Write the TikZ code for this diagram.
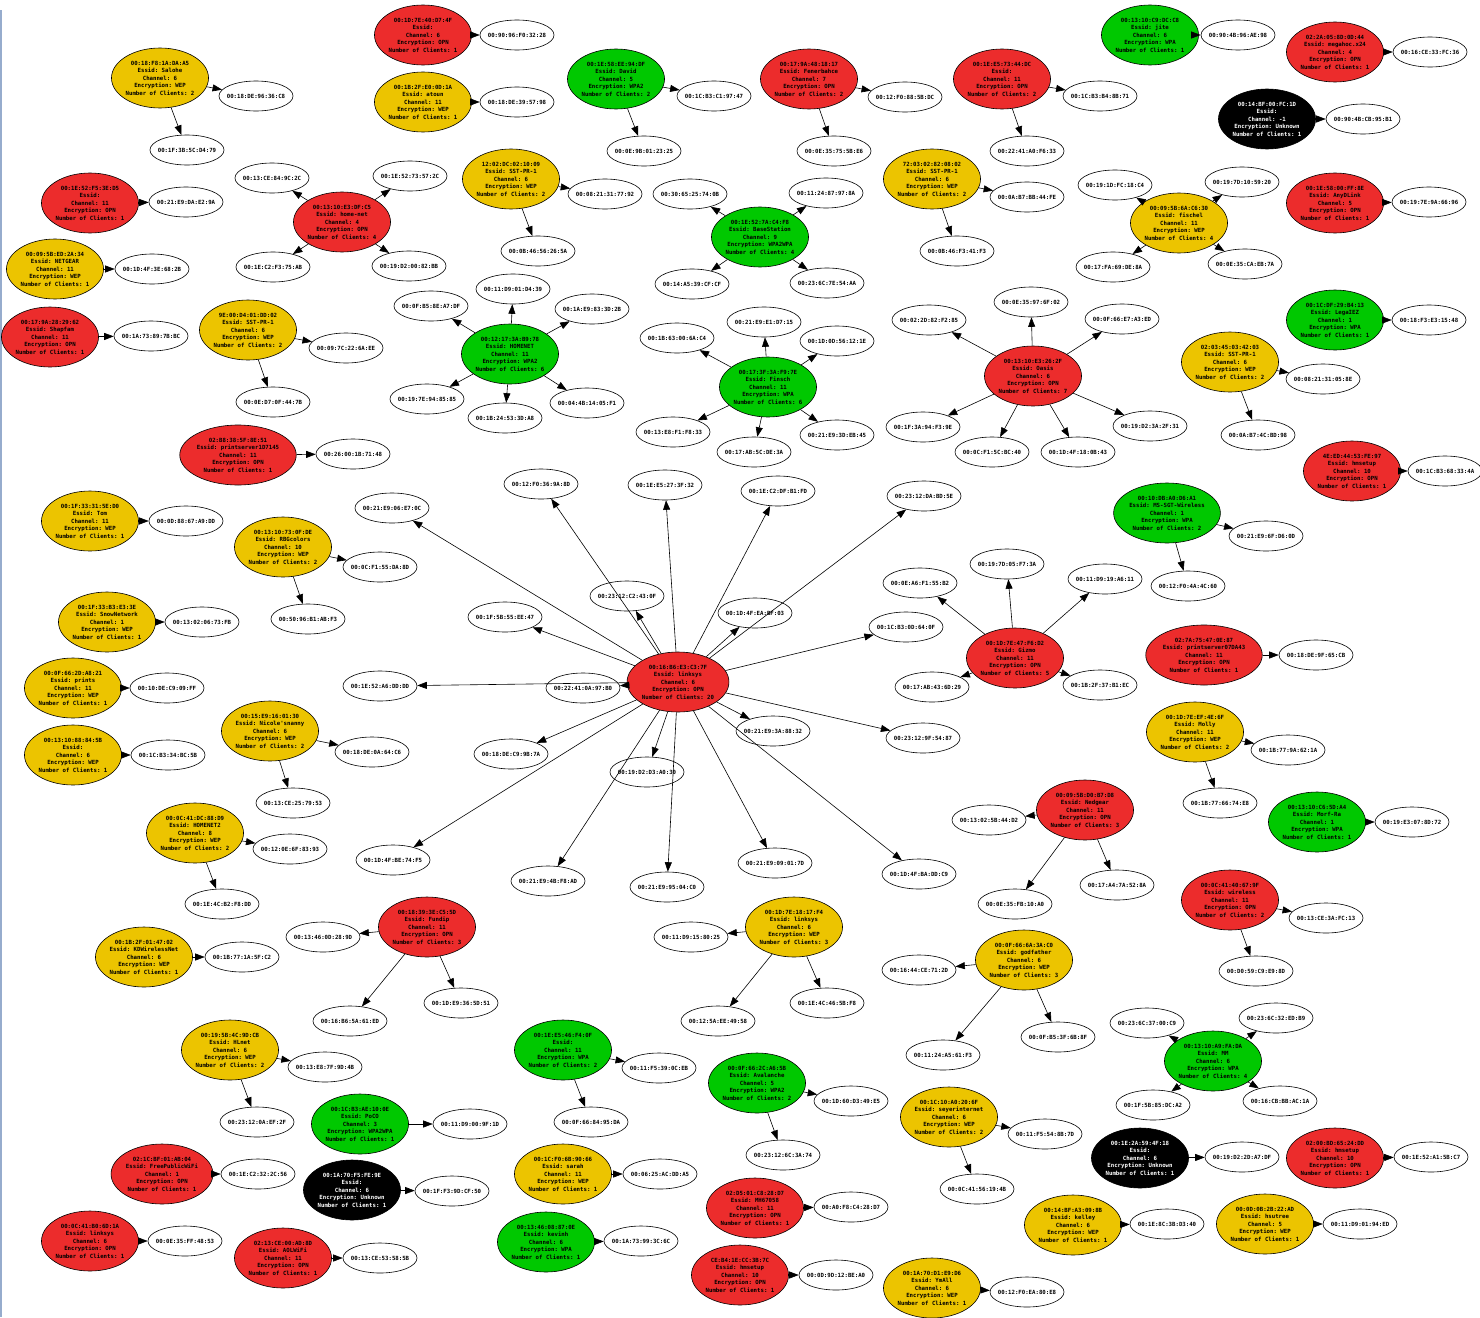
\documentclass[tikz,border=0pt]{standalone}
\usepackage{fontspec}
\setmonofont{DejaVu Sans Mono}
\usetikzlibrary{arrows.meta,shapes.geometric}
\definecolor{apred}{RGB}{236,44,44}
\definecolor{apyellow}{RGB}{236,196,0}
\definecolor{apgreen}{RGB}{0,200,0}
\definecolor{frameblue}{RGB}{150,172,205}

\begin{document}
\begin{tikzpicture}[x=1pt, y=-1pt, >={Triangle[length=9.5pt,width=7pt]},
  every node/.style={font=\fontsize{5.7}{7.5}\selectfont\ttfamily\bfseries},
  ap/.style={ellipse, draw, line width=0.6pt, align=center, inner xsep=0pt, inner ysep=3pt, minimum height=60pt},
  opn/.style={ap, fill=apred},
  wep/.style={ap, fill=apyellow},
  wpa/.style={ap, fill=apgreen},
  unk/.style={ap, fill=black, text=white},
  cl/.style={ellipse, draw, line width=0.6pt, inner xsep=-3pt, inner ysep=0pt, minimum width=74pt, minimum height=30pt},
  link/.style={->, line width=0.6pt}]
\useasboundingbox (0,0) rectangle (1480,1317);
\draw[frameblue, line width=1.5pt] (0.75,10) -- (0.75,1317);

\node[wep] (salohe) at (160,78) {00:18:F8:1A:DA:A5\\Essid: Salohe\\Channel: 6\\Encryption: WEP\\Number of Clients: 2};
\node[cl] (salohe1) at (256,96) {00:18:DE:96:36:C8};
\node[cl] (salohe2) at (187,150) {00:1F:3B:5C:D4:79};
\draw[link] (salohe) -- (salohe1);
\draw[link] (salohe) -- (salohe2);

\node[opn] (f5) at (90,203) {00:1E:52:F5:3E:D5\\Essid:\\Channel: 11\\Encryption: OPN\\Number of Clients: 1};
\node[cl] (f51) at (186,202) {00:21:E9:DA:E2:9A};
\draw[link] (f5) -- (f51);

\node[wep] (netgear) at (55,269) {00:09:5B:ED:2A:34\\Essid: NETGEAR\\Channel: 11\\Encryption: WEP\\Number of Clients: 1};
\node[cl] (netgear1) at (152,269) {00:1D:4F:3E:68:2B};
\draw[link] (netgear) -- (netgear1);

\node[opn] (shapfam) at (50,337) {00:17:9A:28:29:62\\Essid: Shapfam\\Channel: 11\\Encryption: OPN\\Number of Clients: 1};
\node[cl] (shapfam1) at (151,336) {00:1A:73:89:7B:BC};
\draw[link] (shapfam) -- (shapfam1);

\node[opn] (home) at (342,222) {00:13:10:E3:DF:C5\\Essid: home-net\\Channel: 4\\Encryption: OPN\\Number of Clients: 4};
\node[cl] (home1) at (272,178) {00:13:CE:84:9C:2C};
\node[cl] (home2) at (273,267) {00:1E:C2:F3:75:AB};
\node[cl] (home3) at (410,176) {00:1E:52:73:57:2C};
\node[cl] (home4) at (409,266) {00:19:D2:00:82:BB};
\draw[link] (home) -- (home1);
\draw[link] (home) -- (home2);
\draw[link] (home) -- (home3);
\draw[link] (home) -- (home4);

\node[wep] (sstA) at (248,330) {9E:00:D4:01:DD:02\\Essid: SST-PR-1\\Channel: 6\\Encryption: WEP\\Number of Clients: 2};
\node[cl] (sstA1) at (346,348) {00:09:7C:22:6A:EE};
\node[cl] (sstA2) at (273,402) {00:0E:D7:0F:44:7B};
\draw[link] (sstA) -- (sstA1);
\draw[link] (sstA) -- (sstA2);

\node[opn] (psA) at (238,455) {02:B8:38:5F:8E:51\\Essid: printserver1D7145\\Channel: 11\\Encryption: OPN\\Number of Clients: 1};
\node[cl] (psA1) at (353,454) {00:26:00:1B:71:48};
\draw[link] (psA) -- (psA1);

\node[wep] (tom) at (90,521) {00:1F:33:31:5E:D0\\Essid: Tom\\Channel: 11\\Encryption: WEP\\Number of Clients: 1};
\node[cl] (tom1) at (186,521) {00:0D:88:67:A9:DD};
\draw[link] (tom) -- (tom1);

\node[wep] (rbg) at (283,547) {00:13:10:73:0F:DE\\Essid: RBGcolors\\Channel: 10\\Encryption: WEP\\Number of Clients: 2};
\node[cl] (rbg1) at (380,567) {00:0C:F1:55:DA:8D};
\node[cl] (rbg2) at (308,619) {00:50:96:B1:AB:F3};
\draw[link] (rbg) -- (rbg1);
\draw[link] (rbg) -- (rbg2);

\node[wep] (snow) at (107,622) {00:1F:33:B3:E3:3E\\Essid: SnowNetwork\\Channel: 1\\Encryption: WEP\\Number of Clients: 1};
\node[cl] (snow1) at (202,622) {00:13:02:06:73:FB};
\draw[link] (snow) -- (snow1);

\node[wep] (prints) at (73,688) {00:0F:66:2D:A8:21\\Essid: prints\\Channel: 11\\Encryption: WEP\\Number of Clients: 1};
\node[cl] (prints1) at (167,688) {00:10:DE:C9:09:FF};
\draw[link] (prints) -- (prints1);

\node[wep] (b5b) at (73,755) {00:13:10:88:84:5B\\Essid:\\Channel: 6\\Encryption: WEP\\Number of Clients: 1};
\node[cl] (b5b1) at (168,755) {00:1C:B3:34:BC:5B};
\draw[link] (b5b) -- (b5b1);

\node[wep] (nicole) at (270,731) {00:15:E9:16:01:30\\Essid: Nicole'snanny\\Channel: 6\\Encryption: WEP\\Number of Clients: 2};
\node[cl] (nicole1) at (372,752) {00:18:DE:0A:64:C6};
\node[cl] (nicole2) at (293,803) {00:13:CE:25:79:53};
\draw[link] (nicole) -- (nicole1);
\draw[link] (nicole) -- (nicole2);

\node[wep] (homenetB) at (195,833) {00:0C:41:DC:88:D9\\Essid: HOMENET2\\Channel: 8\\Encryption: WEP\\Number of Clients: 2};
\node[cl] (homenetB1) at (290,849) {00:12:0E:6F:83:93};
\node[cl] (homenetB2) at (222,904) {00:1E:4C:B2:F8:DD};
\draw[link] (homenetB) -- (homenetB1);
\draw[link] (homenetB) -- (homenetB2);

\node[wep] (kdw) at (144,957) {00:1B:2F:01:47:02\\Essid: KDWirelessNet\\Channel: 6\\Encryption: WEP\\Number of Clients: 1};
\node[cl] (kdw1) at (242,957) {00:1B:77:1A:5F:C2};
\draw[link] (kdw) -- (kdw1);

\node[opn] (fundip) at (427,927) {00:18:39:3E:C5:5D\\Essid: Fundip\\Channel: 11\\Encryption: OPN\\Number of Clients: 3};
\node[cl] (fundip1) at (323,937) {00:13:46:0D:28:9D};
\node[cl] (fundip2) at (350,1021) {00:16:B6:5A:61:ED};
\node[cl] (fundip3) at (461,1003) {00:1D:E9:36:5D:51};
\draw[link] (fundip) -- (fundip1);
\draw[link] (fundip) -- (fundip2);
\draw[link] (fundip) -- (fundip3);

\node[wep] (hlnet) at (230,1050) {00:19:5B:4C:9D:CB\\Essid: HLnet\\Channel: 6\\Encryption: WEP\\Number of Clients: 2};
\node[cl] (hlnet1) at (325,1067) {00:13:E8:7F:9D:4B};
\node[cl] (hlnet2) at (257,1122) {00:23:12:0A:EF:2F};
\draw[link] (hlnet) -- (hlnet1);
\draw[link] (hlnet) -- (hlnet2);

\node[wpa] (poco) at (360,1124) {00:1C:B3:AE:10:0E\\Essid: PoCO\\Channel: 3\\Encryption: WPA2WPA\\Number of Clients: 1};
\node[cl] (poco1) at (470,1124) {00:11:D9:00:9F:1D};
\draw[link] (poco) -- (poco1);

\node[unk] (unkA) at (352,1190) {00:1A:70:F5:FE:9E\\Essid:\\Channel: 6\\Encryption: Unknown\\Number of Clients: 1};
\node[cl] (unkA1) at (452,1191) {00:1F:F3:9D:CF:50};
\draw[link] (unkA) -- (unkA1);

\node[opn] (fpw) at (162,1174) {02:1C:BF:01:AB:04\\Essid: FreePublicWiFi\\Channel: 1\\Encryption: OPN\\Number of Clients: 1};
\node[cl] (fpw1) at (258,1174) {00:1E:C2:32:2C:56};
\draw[link] (fpw) -- (fpw1);

\node[opn] (lsA) at (90,1241) {00:0C:41:B0:6D:1A\\Essid: linksys\\Channel: 6\\Encryption: OPN\\Number of Clients: 1};
\node[cl] (lsA1) at (185,1241) {00:0E:35:FF:48:53};
\draw[link] (lsA) -- (lsA1);

\node[opn] (aol) at (283,1258) {02:13:CE:00:AD:8D\\Essid: AOLWiFi\\Channel: 11\\Encryption: OPN\\Number of Clients: 1};
\node[cl] (aol1) at (380,1258) {00:13:CE:53:58:5B};
\draw[link] (aol) -- (aol1);

\node[opn] (d74f) at (423,35) {00:1D:7E:40:D7:4F\\Essid:\\Channel: 6\\Encryption: OPN\\Number of Clients: 1};
\node[cl] (d74f1) at (517,35) {00:90:96:F0:32:28};
\draw[link] (d74f) -- (d74f1);

\node[wep] (atoun) at (423,102) {00:1B:2F:E0:0D:1A\\Essid: atoun\\Channel: 11\\Encryption: WEP\\Number of Clients: 1};
\node[cl] (atoun1) at (517,102) {00:18:DE:39:57:98};
\draw[link] (atoun) -- (atoun1);

\node[wpa] (david) at (616,79) {00:1E:58:EE:94:DF\\Essid: David\\Channel: 5\\Encryption: WPA2\\Number of Clients: 2};
\node[cl] (david1) at (714,96) {00:1C:B3:C1:97:47};
\node[cl] (david2) at (644,151) {00:0E:9B:01:23:25};
\draw[link] (david) -- (david1);
\draw[link] (david) -- (david2);

\node[wep] (sstB) at (511,179) {12:02:DC:02:10:09\\Essid: SST-PR-1\\Channel: 6\\Encryption: WEP\\Number of Clients: 2};
\node[cl] (sstB1) at (605,194) {00:08:21:31:77:92};
\node[cl] (sstB2) at (538,251) {00:0B:46:56:26:5A};
\draw[link] (sstB) -- (sstB1);
\draw[link] (sstB) -- (sstB2);

\node[wpa] (base) at (760,237) {00:1E:52:7A:C4:F8\\Essid: BaseStation\\Channel: 9\\Encryption: WPA2WPA\\Number of Clients: 4};
\node[cl] (base1) at (690,194) {00:30:65:25:74:0B};
\node[cl] (base2) at (826,193) {00:11:24:87:97:8A};
\node[cl] (base3) at (692,284) {00:14:A5:39:CF:CF};
\node[cl] (base4) at (827,283) {00:23:6C:7E:54:AA};
\draw[link] (base) -- (base1);
\draw[link] (base) -- (base2);
\draw[link] (base) -- (base3);
\draw[link] (base) -- (base4);

\node[wpa] (homenet) at (510,354) {00:12:17:3A:B9:78\\Essid: HOMENET\\Channel: 11\\Encryption: WPA2\\Number of Clients: 6};
\node[cl] (homenet1) at (513,289) {00:11:D9:01:D4:39};
\node[cl] (homenet2) at (431,306) {00:0F:B5:8E:A7:DF};
\node[cl] (homenet3) at (592,309) {00:1A:E9:83:3D:2B};
\node[cl] (homenet4) at (427,399) {00:19:7E:94:85:85};
\node[cl] (homenet5) at (505,418) {00:1B:24:53:3D:A8};
\node[cl] (homenet6) at (587,403) {00:04:4B:14:05:F1};
\foreach \i in {1,...,6} \draw[link] (homenet) -- (homenet\i);

\node[opn] (fener) at (809,79) {00:17:9A:48:18:17\\Essid: Fenerbahce\\Channel: 7\\Encryption: OPN\\Number of Clients: 2};
\node[cl] (fener1) at (905,97) {00:12:F0:88:5B:DC};
\node[cl] (fener2) at (834,151) {00:0E:35:75:5B:E6};
\draw[link] (fener) -- (fener1);
\draw[link] (fener) -- (fener2);

\node[opn] (e5dc) at (1002,79) {00:1E:E5:73:44:DC\\Essid:\\Channel: 11\\Encryption: OPN\\Number of Clients: 2};
\node[cl] (e5dc1) at (1100,96) {00:1C:B3:B4:8B:71};
\node[cl] (e5dc2) at (1027,151) {00:22:41:A0:F6:33};
\draw[link] (e5dc) -- (e5dc1);
\draw[link] (e5dc) -- (e5dc2);

\node[wep] (sstC) at (932,179) {72:03:02:82:08:02\\Essid: SST-PR-1\\Channel: 6\\Encryption: WEP\\Number of Clients: 2};
\node[cl] (sstC1) at (1027,197) {00:0A:B7:BB:44:FE};
\node[cl] (sstC2) at (957,251) {00:0B:46:F3:41:F3};
\draw[link] (sstC) -- (sstC1);
\draw[link] (sstC) -- (sstC2);

\node[opn] (oasis) at (1033,376) {00:13:10:E3:26:2F\\Essid: Oasis\\Channel: 6\\Encryption: OPN\\Number of Clients: 7};
\node[cl] (oasis1) at (1031,302) {00:0E:35:97:6F:02};
\node[cl] (oasis2) at (929,320) {00:02:2D:82:F2:85};
\node[cl] (oasis3) at (1122,319) {00:0F:66:E7:A3:ED};
\node[cl] (oasis4) at (923,427) {00:1F:3A:94:F3:9E};
\node[cl] (oasis5) at (992,452) {00:0C:F1:5C:BC:40};
\node[cl] (oasis6) at (1078,452) {00:1D:4F:18:0B:43};
\node[cl] (oasis7) at (1150,426) {00:19:D2:3A:2F:31};
\foreach \i in {1,...,7} \draw[link] (oasis) -- (oasis\i);

\node[wpa] (finsch) at (768,387) {00:17:3F:3A:F9:7E\\Essid: Finsch\\Channel: 11\\Encryption: WPA\\Number of Clients: 6};
\node[cl] (finsch1) at (677,338) {00:1B:63:00:6A:C4};
\node[cl] (finsch2) at (764,322) {00:21:E9:E1:D7:15};
\node[cl] (finsch3) at (837,341) {00:1D:0D:56:12:1E};
\node[cl] (finsch4) at (673,432) {00:13:E8:F1:F8:33};
\node[cl] (finsch5) at (754,452) {00:17:AB:5C:DE:3A};
\node[cl] (finsch6) at (837,435) {00:21:E9:3D:EB:45};
\foreach \i in {1,...,6} \draw[link] (finsch) -- (finsch\i);

\node[wpa] (jite) at (1150,35) {00:13:10:C9:DC:C8\\Essid: jite\\Channel: 6\\Encryption: WPA\\Number of Clients: 1};
\node[cl] (jite1) at (1238,35) {00:90:4B:96:AE:98};
\draw[link] (jite) -- (jite1);

\node[opn] (mega) at (1335,52) {02:2A:05:8D:0D:44\\Essid: megahoc.x24\\Channel: 4\\Encryption: OPN\\Number of Clients: 1};
\node[cl] (mega1) at (1430,52) {00:16:CE:33:FC:36};
\draw[link] (mega) -- (mega1);

\node[unk] (unkB) at (1267,119) {00:14:BF:00:FC:1D\\Essid:\\Channel: -1\\Encryption: Unknown\\Number of Clients: 1};
\node[cl] (unkB1) at (1363,119) {00:90:4B:CB:95:B1};
\draw[link] (unkB) -- (unkB1);

\node[wep] (fischel) at (1179,223) {00:09:5B:6A:C6:30\\Essid: fischel\\Channel: 11\\Encryption: WEP\\Number of Clients: 4};
\node[cl] (fischel1) at (1242,182) {00:19:7D:10:59:20};
\node[cl] (fischel2) at (1115,185) {00:19:1D:FC:18:C4};
\node[cl] (fischel3) at (1113,267) {00:17:FA:69:DE:8A};
\node[cl] (fischel4) at (1245,264) {00:0E:35:CA:EB:7A};
\draw[link] (fischel) -- (fischel1);
\draw[link] (fischel) -- (fischel2);
\draw[link] (fischel) -- (fischel3);
\draw[link] (fischel) -- (fischel4);

\node[opn] (anyd) at (1335,203) {00:1E:58:00:FF:8E\\Essid: AnyDLink\\Channel: 5\\Encryption: OPN\\Number of Clients: 1};
\node[cl] (anyd1) at (1429,202) {00:19:7E:9A:66:96};
\draw[link] (anyd) -- (anyd1);

\node[wpa] (lega) at (1335,320) {00:1C:DF:29:B4:13\\Essid: LegaIEZ\\Channel: 1\\Encryption: WPA\\Number of Clients: 1};
\node[cl] (lega1) at (1429,320) {00:18:F3:E3:15:48};
\draw[link] (lega) -- (lega1);

\node[wep] (sstD) at (1230,362) {02:03:45:03:42:03\\Essid: SST-PR-1\\Channel: 6\\Encryption: WEP\\Number of Clients: 2};
\node[cl] (sstD1) at (1323,379) {00:08:21:31:05:8E};
\node[cl] (sstD2) at (1258,435) {00:0A:B7:4C:BD:98};
\draw[link] (sstD) -- (sstD1);
\draw[link] (sstD) -- (sstD2);

\node[opn] (hmsA) at (1352,471) {4E:ED:44:53:FE:97\\Essid: hmsetup\\Channel: 10\\Encryption: OPN\\Number of Clients: 1};
\node[cl] (hmsA1) at (1445,471) {00:1C:B3:68:33:4A};
\draw[link] (hmsA) -- (hmsA1);

\node[wpa] (msgt) at (1167,513) {00:10:DB:A0:D6:A1\\Essid: MS-SGT-Wireless\\Channel: 1\\Encryption: WPA\\Number of Clients: 2};
\node[cl] (msgt1) at (1266,536) {00:21:E9:6F:D6:0D};
\node[cl] (msgt2) at (1188,586) {00:12:F0:4A:4C:60};
\draw[link] (msgt) -- (msgt1);
\draw[link] (msgt) -- (msgt2);

\node[opn] (psB) at (1204,655) {02:7A:75:47:0E:87\\Essid: printserver07DA43\\Channel: 11\\Encryption: OPN\\Number of Clients: 1};
\node[cl] (psB1) at (1316,655) {00:18:DE:9F:65:CB};
\draw[link] (psB) -- (psB1);

\node[wep] (molly) at (1195,732) {00:1D:7E:EF:4E:6F\\Essid: Molly\\Channel: 11\\Encryption: WEP\\Number of Clients: 2};
\node[cl] (molly1) at (1288,750) {00:1B:77:9A:62:1A};
\node[cl] (molly2) at (1220,803) {00:1B:77:66:74:E8};
\draw[link] (molly) -- (molly1);
\draw[link] (molly) -- (molly2);

\node[wpa] (morf) at (1317,822) {00:13:10:C6:5D:A4\\Essid: Morf-Ra\\Channel: 1\\Encryption: WPA\\Number of Clients: 1};
\node[cl] (morf1) at (1412,822) {00:19:E3:07:8D:72};
\draw[link] (morf) -- (morf1);

\node[opn] (gizmo) at (1015,658) {00:1D:7E:47:F6:D2\\Essid: Gizmo\\Channel: 11\\Encryption: OPN\\Number of Clients: 5};
\node[cl] (gizmo1) at (920,583) {00:0E:A6:F1:55:B2};
\node[cl] (gizmo2) at (1007,564) {00:19:7D:05:F7:3A};
\node[cl] (gizmo3) at (1105,579) {00:11:D9:19:A6:11};
\node[cl] (gizmo4) at (932,687) {00:17:AB:43:6D:29};
\node[cl] (gizmo5) at (1100,685) {00:1B:2F:37:B1:EC};
\foreach \i in {1,...,5} \draw[link] (gizmo) -- (gizmo\i);

\node[opn] (nedgear) at (1085,810) {00:09:5B:D0:B7:D8\\Essid: Nedgear\\Channel: 11\\Encryption: OPN\\Number of Clients: 3};
\node[cl] (nedgear1) at (989,820) {00:13:02:5B:44:D2};
\node[cl] (nedgear2) at (1015,904) {00:0E:35:FB:10:A0};
\node[cl] (nedgear3) at (1117,885) {00:17:A4:7A:52:8A};
\draw[link] (nedgear) -- (nedgear1);
\draw[link] (nedgear) -- (nedgear2);
\draw[link] (nedgear) -- (nedgear3);

\node[opn] (wireless) at (1230,900) {00:0C:41:40:67:9F\\Essid: wireless\\Channel: 11\\Encryption: OPN\\Number of Clients: 2};
\node[cl] (wireless1) at (1326,918) {00:13:CE:3A:FC:13};
\node[cl] (wireless2) at (1256,971) {00:D0:59:C9:E9:8D};
\draw[link] (wireless) -- (wireless1);
\draw[link] (wireless) -- (wireless2);

\node[wep] (lsB) at (794,927) {00:1D:7E:18:17:F4\\Essid: linksys\\Channel: 6\\Encryption: WEP\\Number of Clients: 3};
\node[cl] (lsB1) at (691,937) {00:11:D9:15:80:25};
\node[cl] (lsB2) at (718,1021) {00:12:5A:EE:49:58};
\node[cl] (lsB3) at (827,1003) {00:1E:4C:46:5B:F8};
\draw[link] (lsB) -- (lsB1);
\draw[link] (lsB) -- (lsB2);
\draw[link] (lsB) -- (lsB3);

\node[wep] (godf) at (1024,960) {00:0F:66:6A:3A:C0\\Essid: godfather\\Channel: 6\\Encryption: WEP\\Number of Clients: 3};
\node[cl] (godf1) at (919,970) {00:16:44:CE:71:2D};
\node[cl] (godf2) at (1058,1037) {00:0F:B5:3F:6B:8F};
\node[cl] (godf3) at (943,1055) {00:11:24:A5:61:F3};
\draw[link] (godf) -- (godf1);
\draw[link] (godf) -- (godf2);
\draw[link] (godf) -- (godf3);

\node[wpa] (mm) at (1213,1061) {00:13:10:A9:FA:DA\\Essid: MM\\Channel: 6\\Encryption: WPA\\Number of Clients: 4};
\node[cl] (mm1) at (1147,1023) {00:23:6C:37:00:C9};
\node[cl] (mm2) at (1276,1018) {00:23:6C:32:ED:B9};
\node[cl] (mm3) at (1153,1105) {00:1F:5B:85:DC:A2};
\node[cl] (mm4) at (1280,1101) {00:16:CB:BB:AC:1A};
\draw[link] (mm) -- (mm1);
\draw[link] (mm) -- (mm2);
\draw[link] (mm) -- (mm3);
\draw[link] (mm) -- (mm4);

\node[unk] (unkC) at (1140,1158) {00:1E:2A:59:4F:18\\Essid:\\Channel: 6\\Encryption: Unknown\\Number of Clients: 1};
\node[cl] (unkC1) at (1242,1157) {00:19:D2:2D:A7:DF};
\draw[link] (unkC) -- (unkC1);

\node[opn] (hmsB) at (1335,1158) {02:00:BD:65:24:DD\\Essid: hmsetup\\Channel: 10\\Encryption: OPN\\Number of Clients: 1};
\node[cl] (hmsB1) at (1431,1157) {00:1E:52:A1:5B:C7};
\draw[link] (hmsB) -- (hmsB1);

\node[wep] (kelley) at (1073,1225) {00:14:BF:A3:09:8B\\Essid: kelley\\Channel: 6\\Encryption: WEP\\Number of Clients: 1};
\node[cl] (kelley1) at (1167,1224) {00:1E:8C:3B:D3:40};
\draw[link] (kelley) -- (kelley1);

\node[wep] (hsutree) at (1265,1224) {00:0D:0B:2B:22:AD\\Essid: hsutree\\Channel: 5\\Encryption: WEP\\Number of Clients: 1};
\node[cl] (hsutree1) at (1360,1224) {00:11:D9:01:94:ED};
\draw[link] (hsutree) -- (hsutree1);

\node[wep] (seyer) at (949,1117) {00:1C:10:A0:20:6F\\Essid: seyerinternet\\Channel: 6\\Encryption: WEP\\Number of Clients: 2};
\node[cl] (seyer1) at (1045,1134) {00:11:F5:54:8B:7D};
\node[cl] (seyer2) at (977,1189) {00:0C:41:56:19:4B};
\draw[link] (seyer) -- (seyer1);
\draw[link] (seyer) -- (seyer2);

\node[wpa] (aval) at (757,1083) {00:0F:66:2C:A6:5B\\Essid: Avalanche\\Channel: 5\\Encryption: WPA2\\Number of Clients: 2};
\node[cl] (aval1) at (851,1101) {00:1D:60:D3:49:E5};
\node[cl] (aval2) at (783,1155) {00:23:12:6C:3A:74};
\draw[link] (aval) -- (aval1);
\draw[link] (aval) -- (aval2);

\node[wpa] (e546) at (563,1050) {00:1E:E5:46:F4:0F\\Essid:\\Channel: 11\\Encryption: WPA\\Number of Clients: 2};
\node[cl] (e5461) at (659,1068) {00:11:F5:39:0C:EB};
\node[cl] (e5462) at (591,1122) {00:0F:66:84:95:DA};
\draw[link] (e546) -- (e5461);
\draw[link] (e546) -- (e5462);

\node[wep] (sarah) at (563,1174) {00:1C:F0:6B:90:66\\Essid: sarah\\Channel: 11\\Encryption: WEP\\Number of Clients: 1};
\node[cl] (sarah1) at (660,1174) {00:06:25:AC:DD:A5};
\draw[link] (sarah) -- (sarah1);

\node[wpa] (kevin) at (546,1242) {00:13:46:08:87:0E\\Essid: kevinh\\Channel: 6\\Encryption: WPA\\Number of Clients: 1};
\node[cl] (kevin1) at (641,1241) {00:1A:73:99:3C:6C};
\draw[link] (kevin) -- (kevin1);

\node[opn] (mh) at (755,1208) {02:D5:01:C8:28:D7\\Essid: MH67058\\Channel: 11\\Encryption: OPN\\Number of Clients: 1};
\node[cl] (mh1) at (851,1207) {00:A0:F8:C4:28:D7};
\draw[link] (mh) -- (mh1);

\node[opn] (hmsC) at (740,1275) {CE:B4:1E:CC:3B:7C\\Essid: hmsetup\\Channel: 10\\Encryption: OPN\\Number of Clients: 1};
\node[cl] (hmsC1) at (836,1275) {00:0D:9D:12:BE:A0};
\draw[link] (hmsC) -- (hmsC1);

\node[wep] (ymall) at (932,1288) {00:1A:70:D1:E9:D6\\Essid: YmAll\\Channel: 6\\Encryption: WEP\\Number of Clients: 1};
\node[cl] (ymall1) at (1027,1292) {00:12:F0:EA:80:E8};
\draw[link] (ymall) -- (ymall1);

\node[opn] (hub) at (678,682) {00:16:B6:E3:C3:7F\\Essid: linksys\\Channel: 6\\Encryption: OPN\\Number of Clients: 20};
\node[cl] (hub1) at (541,484) {00:12:F0:36:9A:8D};
\node[cl] (hub2) at (665,485) {00:1E:E5:27:3F:32};
\node[cl] (hub3) at (778,491) {00:1E:C2:DF:B1:FD};
\node[cl] (hub4) at (924,496) {00:23:12:DA:BD:5E};
\node[cl] (hub5) at (392,508) {00:21:E9:06:E7:0C};
\node[cl] (hub6) at (627,596) {00:23:12:C2:43:0F};
\node[cl] (hub7) at (505,617) {00:1F:5B:55:EE:47};
\node[cl] (hub8) at (755,613) {00:1D:4F:EA:BF:03};
\node[cl] (hub9) at (906,627) {00:1C:B3:0D:64:0F};
\node[cl] (hub10) at (380,686) {00:1E:52:A6:DD:DD};
\node[cl] (hub11) at (583,688) {00:22:41:0A:97:B0};
\node[cl] (hub12) at (773,731) {00:21:E9:3A:88:32};
\node[cl] (hub13) at (923,738) {00:23:12:9F:54:87};
\node[cl] (hub14) at (511,754) {00:18:DE:C9:9B:7A};
\node[cl] (hub15) at (647,772) {00:19:D2:D3:A0:30};
\node[cl] (hub16) at (393,860) {00:1D:4F:BE:74:F5};
\node[cl] (hub17) at (548,881) {00:21:E9:4B:F8:AD};
\node[cl] (hub18) at (667,887) {00:21:E9:95:04:C0};
\node[cl] (hub19) at (775,863) {00:21:E9:09:01:7D};
\node[cl] (hub20) at (919,874) {00:1D:4F:BA:DD:C9};
\foreach \i in {1,...,20} \draw[link] (hub) -- (hub\i);

\end{tikzpicture}
\end{document}
